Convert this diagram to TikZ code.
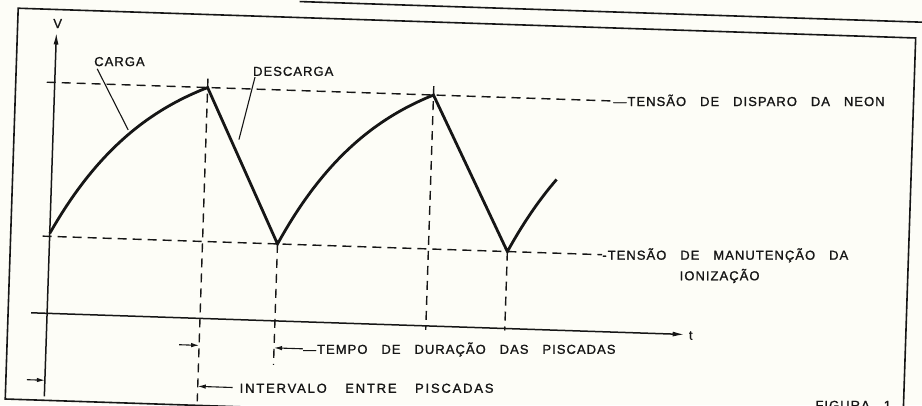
\documentclass[tikz,border=0pt]{standalone}
\usepackage{fontspec}
\setmainfont{Liberation Sans}
\newfontfamily\lett[LetterSpace=8,WordSpace=3,FakeBold=1.2]{Liberation Sans}
\newfontfamily\lettwide[LetterSpace=14,WordSpace=3.4,FakeBold=1.2]{Liberation Sans}
\usetikzlibrary{arrows.meta}
\definecolor{paper}{RGB}{253,253,247}
\definecolor{ink}{RGB}{22,22,22}
\begin{document}
\begin{tikzpicture}[x=1pt,y=-1pt,
  lbl/.style={font=\lett\fontsize{13}{15}\selectfont, inner sep=0pt, text=ink},
  lblwide/.style={font=\lettwide\fontsize{13}{15}\selectfont, inner sep=0pt, text=ink},
  curve/.style={draw=ink, line width=2.8pt, line join=miter},
  dsh/.style={draw=ink, line width=1.4pt, dash pattern=on 9pt off 6pt},
  leader/.style={draw=ink, line width=1.1pt},
  frameline/.style={draw=ink, line width=1.6pt},
  dimarrow/.style={draw=ink, line width=1.1pt, -{Latex[length=8pt,width=4.5pt]}},
  axarrow/.style={draw=ink, line width=1.5pt, -{Latex[length=12pt,width=5pt]}},
]
\useasboundingbox[fill=paper] (0,0) rectangle (922,405);
\begin{scope}[rotate around={-1.9:(461,202)}]
  % frame
  \draw[frameline] (12,23) rectangle (910,414);
  \coordinate (ea) at (293,7); \coordinate (eb) at (935,7);
  \draw[frameline] (ea) -- (eb);
  % key points
  \coordinate (S) at (51,247);
  \coordinate (P1) at (204,96);
  \coordinate (T1) at (279,250);
  \coordinate (P2) at (430,96);
  \coordinate (T2) at (509,250);
  % axes
  \coordinate (vbot) at (51,410); \coordinate (vtop) at (51,46);
  \draw[axarrow] (vbot) -- (vtop);
  \node[lbl] (V) at (52,37) {V};
  \coordinate (tl) at (35,327); \coordinate (tr) at (689,327);
  \draw[axarrow] (tl) -- (tr);
  \node[lbl, anchor=west] (t) at (693,328) {t};
  % level lines and labels
  \node[lbl, anchor=base west] (neon) at (610,101) {—TENSÃO DE DISPARO DA NEON};
  \coordinate (u0) at (43,96);
  \draw[dsh] (u0) -- (u0 -| neon.west);
  \node[lbl, anchor=base west] (man) at (604,255) {-TENSÃO DE MANUTENÇÃO DA};
  \node[lbl, anchor=base west] (ion) at (682,273) {IONIZAÇÃO};
  \coordinate (l0) at (44,250);
  \draw[dsh] (l0) -- (l0 -| man.west);
  % vertical dashed lines
  \coordinate (p1a) at (204,87); \coordinate (p1b) at (204,410);
  \draw[dsh] (p1a) -- (p1b);
  \coordinate (t1b) at (279,371);
  \draw[dsh] (T1) -- (t1b);
  \coordinate (p2a) at (430,87); \coordinate (p2b) at (430,331);
  \draw[dsh] (p2a) -- (p2b);
  \coordinate (t2b) at (509,329);
  \draw[dsh] (T2) -- (t2b);
  % waveform
  \draw[curve] plot[domain=0:1,samples=40] ({51+153*\x},{247-151*(1-exp(-1.5*\x))/0.77687})
     -- (T1)
     -- plot[domain=0:1,samples=40] ({279+151*\x},{250-154*(1-exp(-1.5*\x))/0.77687})
     -- (T2)
     -- plot[domain=0:0.31,samples=15] ({509+151*\x},{250-154*(1-exp(-1.5*\x))/0.77687});
  % labels with leaders
  \node[lbl] (carga) at (115,73) {CARGA};
  \coordinate (c0) at (93,81); \coordinate (c1) at (126,141);
  \draw[leader] (c0) -- (c1);
  \node[lbl] (descarga) at (289,77) {DESCARGA};
  \coordinate (d0) at (251,84); \coordinate (d1) at (237,147);
  \draw[leader] (d0) -- (d1);
  % dimension arrows
  \coordinate (ra) at (184,354); \coordinate (rb) at (204,354);
  \draw[dimarrow] (ra) -- (rb);
  \node[lbl, anchor=base west] (tempo) at (308,359) {—TEMPO DE DURAÇÃO DAS PISCADAS};
  \coordinate (ta) at (279,354);
  \draw[dimarrow] (ta -| tempo.west) -- (ta);
  \coordinate (la) at (33,394); \coordinate (lb) at (51,394);
  \draw[dimarrow] (la) -- (lb);
  \node[lblwide, anchor=base west] (interv) at (246,400) {INTERVALO ENTRE PISCADAS};
  \coordinate (ia) at (239,395); \coordinate (ib) at (204,395);
  \draw[dimarrow] (ia) -- (ib);
  \node[lbl, anchor=base west] (fig) at (822,398) {FIGURA 1};
\end{scope}
\end{tikzpicture}
\end{document}
